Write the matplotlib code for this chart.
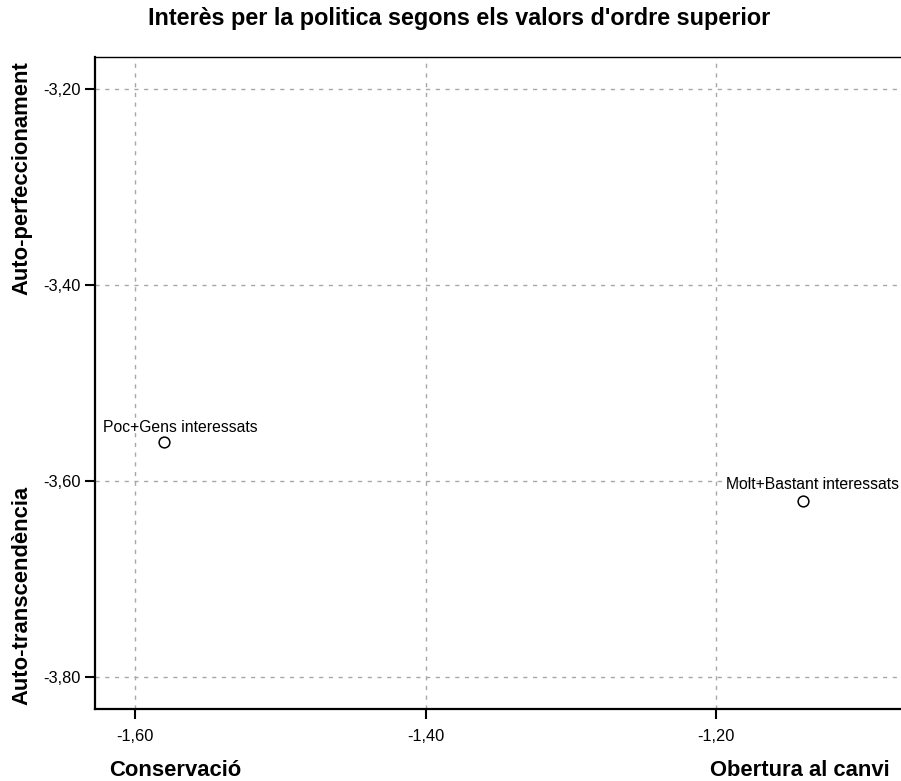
import matplotlib
matplotlib.use("Agg")
import matplotlib.pyplot as plt

plt.rcParams['font.family'] = ['Liberation Sans', 'DejaVu Sans']

labels = ["Poc+Gens interessats", "Molt+Bastant interessats"]
x_vals = [-1.580, -1.140]
y_vals = [-3.560, -3.620]
x_ticks = [-1.60, -1.40, -1.20]
y_ticks = [-3.20, -3.40, -3.60, -3.80]
title = "Interès per la politica segons els valors d'ordre superior"

def fmt(v):
    return f"{v:.2f}".replace(".", ",")

fig = plt.figure(figsize=(9.01, 7.81), dpi=100)
ax = fig.add_axes([95/901, 1-709/781, 1-95/901, (709-56.5)/781])

ax.set_xlim(-1.6276, -1.0726)
ax.set_ylim(-3.8327, -3.1668)

ax.set_xticks(x_ticks)
ax.set_xticklabels([fmt(v) for v in x_ticks])
ax.set_yticks(y_ticks)
ax.set_yticklabels([fmt(v) for v in y_ticks])
ax.tick_params(axis='x', direction='out', length=7.2, width=1.5, labelsize=11.8, pad=7)
ax.tick_params(axis='y', direction='out', length=7.2, width=1.5, labelsize=11.8, pad=3)

for s in ['left', 'bottom']:
    ax.spines[s].set_linewidth(1.6)
ax.spines['top'].set_linewidth(1.0)
ax.spines['right'].set_visible(False)

ax.grid(True, color='#a8a8a8', linestyle=(0, (3, 4)), linewidth=1.0)
ax.set_axisbelow(True)

ax.scatter(x_vals, y_vals, s=60, facecolors='white', edgecolors='black', linewidths=1.1, zorder=3)
offsets = [(12, 7), (7, 8)]
for lab, xv, yv, off in zip(labels, x_vals, y_vals, offsets):
    ax.annotate(lab, (xv, yv), xytext=off, textcoords='offset points',
                ha='center', va='baseline', fontsize=11.3, zorder=4, annotation_clip=False)

fig.text(459/901, 1-19/781, title, ha='center', va='center', fontsize=16.8, fontweight='bold')
fig.text(175/901, 1-770/781, "Conservació", ha='center', va='center', fontsize=15.8, fontweight='bold')
fig.text(800/901, 1-770/781, "Obertura al canvi", ha='center', va='center', fontsize=15.8, fontweight='bold')
fig.text(22/901, 1-178/781, "Auto-perfeccionament", ha='center', va='center', rotation=90, fontsize=15.8, fontweight='bold')
fig.text(22/901, 1-595/781, "Auto-transcendència", ha='center', va='center', rotation=90, fontsize=15.8, fontweight='bold')

fig.savefig("out.png", dpi=100)
